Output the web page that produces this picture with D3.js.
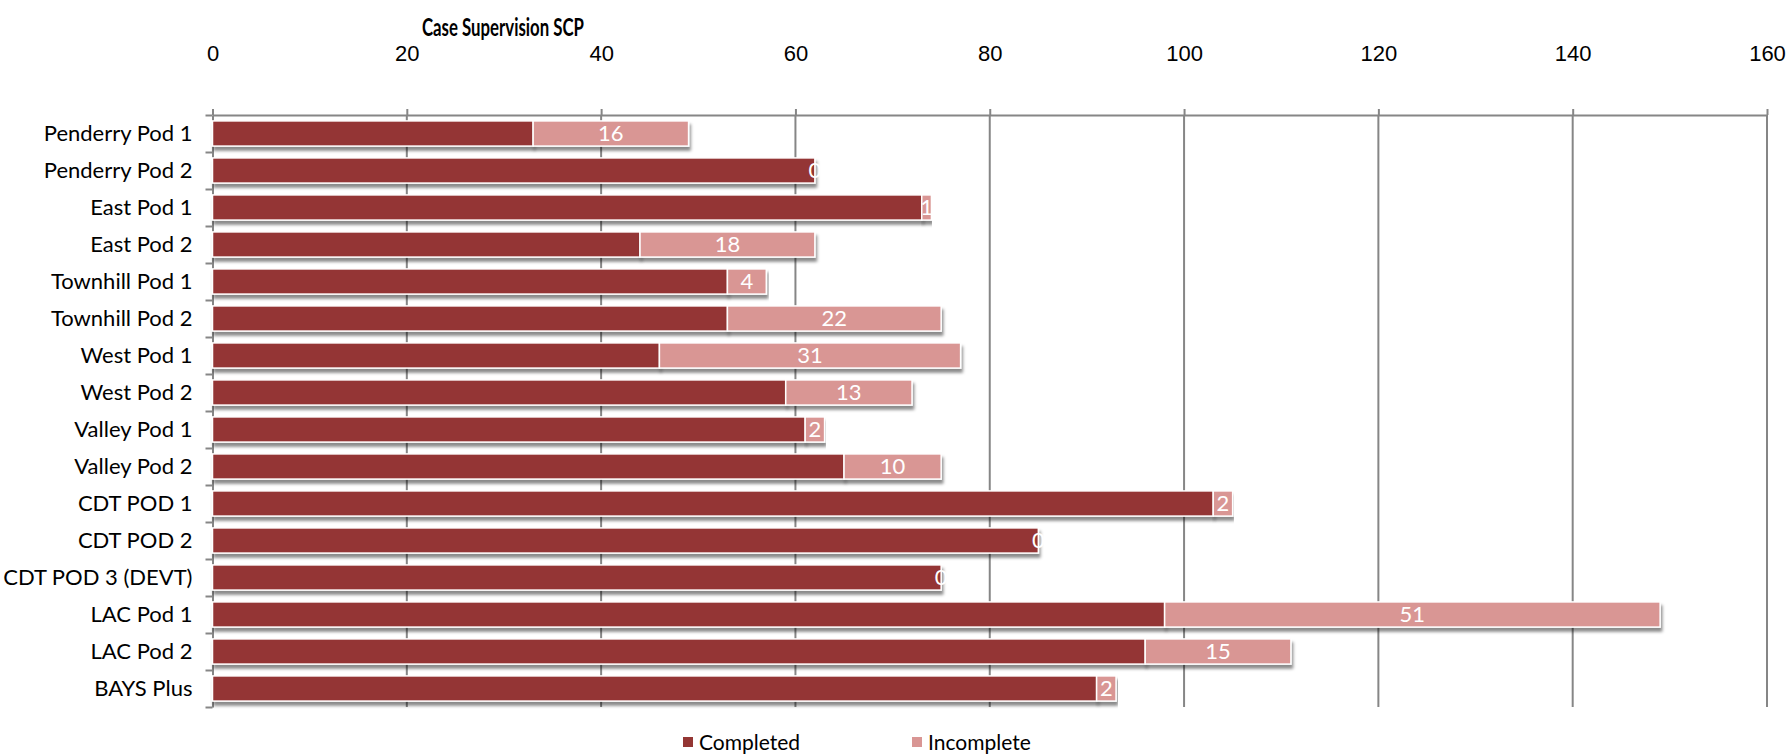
<!DOCTYPE html>
<html>
<head>
<meta charset="utf-8">
<script src="https://cdn.jsdelivr.net/npm/d3@7"></script>
<style>
  body { margin: 0; background: #fff; }
  svg { display: block; font-family: Lato, "Open Sans", sans-serif; }
  .axis path, .axis line { stroke: #868686; stroke-width: 2; }
  .axis text { fill: #000; font-size: 22px; }
</style>
</head>
<body>
<svg id="chart" width="1791" height="756"></svg>
<script>
// chart data
var categories = ["Penderry Pod 1", "Penderry Pod 2", "East Pod 1", "East Pod 2",
  "Townhill Pod 1", "Townhill Pod 2", "West Pod 1", "West Pod 2", "Valley Pod 1",
  "Valley Pod 2", "CDT POD 1", "CDT POD 2", "CDT POD 3 (DEVT)", "LAC Pod 1",
  "LAC Pod 2", "BAYS Plus"];
var completed = [33, 62, 73, 44, 53, 53, 46, 59, 61, 65, 103, 85, 75, 98, 96, 91];
var incomplete = [16, 0, 1, 18, 4, 22, 31, 13, 2, 10, 2, 0, 0, 51, 15, 2];
var seriesNames = ["Completed", "Incomplete"];
var xTicks = [0, 20, 40, 60, 80, 100, 120, 140, 160];

var colors = {Completed: "#943634", Incomplete: "#d99694"};

var svg = d3.select("#chart");
var margin = {top: 115, left: 212.5, right: 24, bottom: 49};
var w = 1791 - margin.left - margin.right,
    h = 756 - margin.top - margin.bottom;

var x = d3.scaleLinear().domain([0, 160]).range([0, w]);
var y = d3.scaleBand().domain(categories).range([0, h])
    .paddingInner(0.32).paddingOuter(0.16);
var yIdx = d3.scaleLinear().domain([0, categories.length]).range([0, h]);

var rows = categories.map(function(c, i) {
  return {cat: c, Completed: completed[i], Incomplete: incomplete[i]};
});
var stacked = d3.stack().keys(seriesNames)(rows);

// shadow like the office chart
var defs = svg.append("defs");
var f = defs.append("filter").attr("id", "shadow")
    .attr("x", "-5%").attr("y", "-20%").attr("width", "110%").attr("height", "160%");
f.append("feDropShadow").attr("dx", 1.5).attr("dy", 4).attr("stdDeviation", 1.6)
    .attr("flood-color", "#000").attr("flood-opacity", 0.45);

svg.append("text")
    .attr("transform", "translate(503,36) scale(0.7,1)")
    .attr("text-anchor", "middle")
    .style("font-size", "24px").style("font-weight", "bold")
    .text("Case Supervision SCP");

var g = svg.append("g")
    .attr("transform", "translate(" + margin.left + "," + margin.top + ")");

// vertical gridlines
g.append("g").selectAll("line")
    .data(xTicks.slice(1))
    .enter().append("line")
    .attr("x1", function(d) { return x(d); })
    .attr("x2", function(d) { return x(d); })
    .attr("y1", 0).attr("y2", h)
    .attr("stroke", "#868686").attr("stroke-width", 2);

// top axis
g.append("g").attr("class", "axis")
    .call(d3.axisTop(x).tickValues(xTicks).tickSize(6).tickSizeOuter(0).tickPadding(48));

// left axis with ticks between categories
g.append("g").attr("class", "axis")
    .call(d3.axisLeft(yIdx).tickValues(d3.range(categories.length + 1))
      .tickFormat("").tickSize(7).tickSizeOuter(0));

// category labels
g.append("g").selectAll("text")
    .data(categories)
    .enter().append("text")
    .attr("x", -20)
    .attr("y", function(d) { return y(d) + y.bandwidth() / 2; })
    .attr("dy", "0.35em")
    .attr("text-anchor", "end")
    .style("font-size", "22px")
    .text(function(d) { return d; });

// bars
var layer = g.selectAll(".layer")
    .data(stacked)
    .enter().append("g")
    .attr("class", "layer")
    .attr("fill", function(d) { return colors[d.key]; });

layer.selectAll("rect")
    .data(function(d) { return d; })
    .enter().append("rect")
    .attr("x", function(d) { return x(d[0]); })
    .attr("y", function(d) { return y(d.data.cat); })
    .attr("width", function(d) { return x(d[1]) - x(d[0]); })
    .attr("height", y.bandwidth())
    .attr("stroke", "#fff")
    .attr("stroke-width", 1.5)
    .attr("filter", "url(#shadow)");

// value labels on incomplete part
g.append("g").selectAll("text")
    .data(stacked[1])
    .enter().append("text")
    .attr("x", function(d) { return (x(d[0]) + x(d[1])) / 2; })
    .attr("y", function(d) { return y(d.data.cat) + y.bandwidth() / 2; })
    .attr("dy", "0.36em")
    .attr("text-anchor", "middle")
    .attr("fill", "#fff")
    .style("font-size", "22px")
    .text(function(d) { return d.data.Incomplete; });

// legend
var legend = svg.append("g").selectAll("g")
    .data(seriesNames)
    .enter().append("g")
    .attr("transform", function(d, i) { return "translate(" + (683 + i * 229) + ",737)"; });
legend.append("rect")
    .attr("width", 10).attr("height", 10)
    .attr("fill", function(d) { return colors[d]; });
legend.append("text")
    .attr("x", 16).attr("y", 5).attr("dy", "0.36em")
    .style("font-size", "21px")
    .text(function(d) { return d; });
</script>
</body>
</html>
